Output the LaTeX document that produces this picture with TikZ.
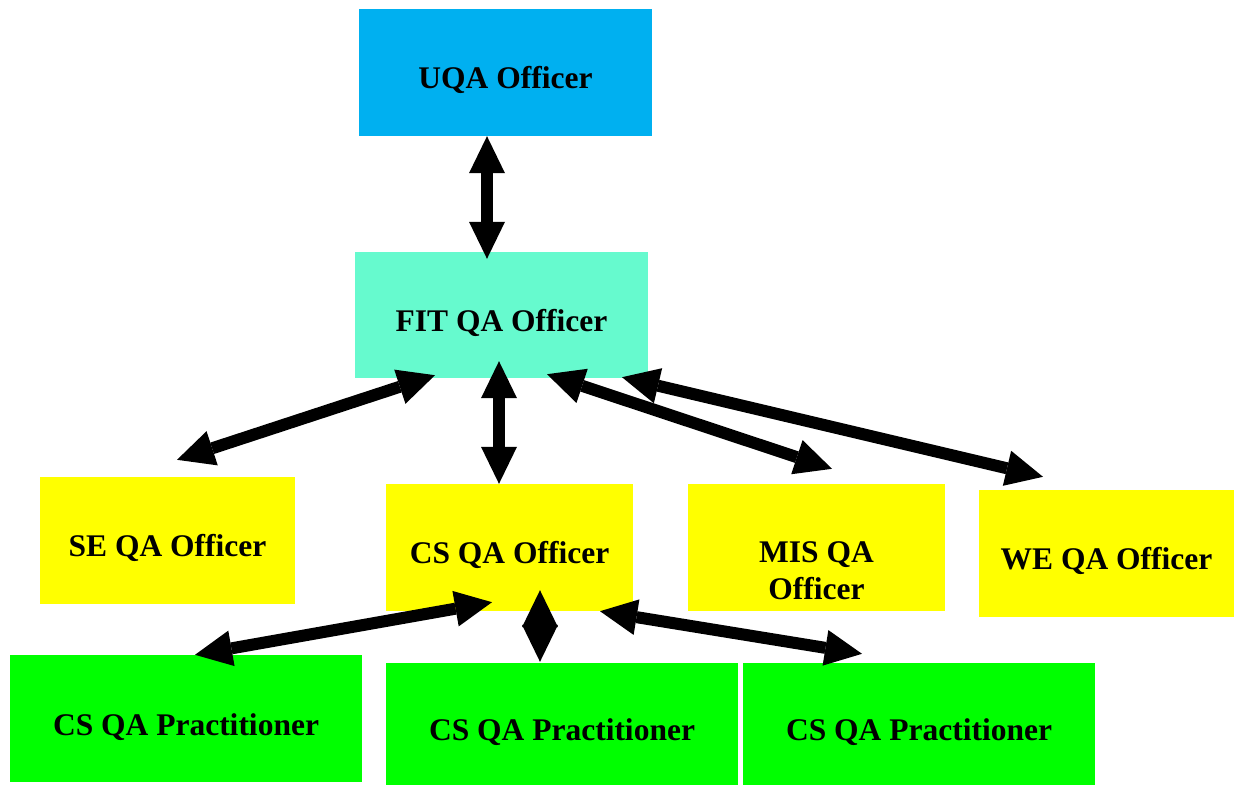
\documentclass[tikz,border=0pt]{standalone}
\usepackage{fontspec}
\setmainfont{Liberation Serif}
\usetikzlibrary{arrows.meta}
\definecolor{uqablue}{HTML}{00B0F0}
\definecolor{fitaqua}{HTML}{66FACE}
\definecolor{offyellow}{HTML}{FFFF00}
\definecolor{pracgreen}{HTML}{00FF00}
\newcommand\boxtext[2][16pt]{\raisebox{-#1}[0pt][0pt]{#2}}
\tikzset{
  box/.style={rectangle, inner sep=0pt, font=\bfseries\fontsize{31.5}{37}\selectfont},
  uqabox/.style={box, fill=uqablue, minimum width=293pt, minimum height=127pt},
  fitbox/.style={box, fill=fitaqua, minimum width=293pt, minimum height=126pt},
  offbox/.style={box, fill=offyellow, minimum height=127pt},
  pracbox/.style={box, fill=pracgreen, minimum width=352pt},
  link/.style={line width=12pt, {Triangle[length=37pt,width=36pt,line width=0pt]}-{Triangle[length=37pt,width=36pt,line width=0pt]}}
}
\begin{document}
\begin{tikzpicture}[x=1pt,y=-1pt]
\useasboundingbox (0,0) rectangle (1240,785);
\node[uqabox] (uqa) at (505.5,72.5) {\boxtext[15.5pt]{UQA Officer}};
\node[fitbox] (fit) at (501.5,315) {\boxtext{FIT QA Officer}};
\node[offbox, minimum width=255pt] (se) at (167.5,540.5) {\boxtext{SE QA Officer}};
\node[offbox, minimum width=247pt] (cs) at (509.5,547.5) {\boxtext{CS QA Officer}};
\node[offbox, minimum width=257pt] (mis) at (816.5,547.5) {\boxtext[14.5pt]{\begin{tabular}[t]{@{}c@{}}MIS QA\\Officer\end{tabular}}};
\node[offbox, minimum width=255pt] (we) at (1106.5,553.5) {\boxtext[15.5pt]{WE QA Officer}};
\node[pracbox, minimum height=127pt] (p1) at (186,718.5) {\boxtext[16.5pt]{CS QA Practitioner}};
\node[pracbox, minimum height=122pt] (p2) at (562,724) {\boxtext[16.7pt]{CS QA Practitioner}};
\node[pracbox, minimum height=122pt] (p3) at (919,724) {\boxtext[16.7pt]{CS QA Practitioner}};

\draw[link] ([shift={(-18.5,0)}]uqa.south) -- ([shift={(-14.5,7)}]fit.north);
\draw[link] ([shift={(-66.5,-3)}]fit.south) -- ([shift={(9.5,-17)}]se.north);
\draw[link] ([shift={(-2.5,-17)}]fit.south) -- ([shift={(-10.5,0)}]cs.north);
\draw[link] ([shift={(45.5,-4)}]fit.south) -- ([shift={(15.5,-15)}]mis.north);
\draw[link] ([shift={(120.5,-1)}]fit.south) -- ([shift={(-63.5,-13)}]we.north);
\draw[link] ([shift={(-17.5,-9)}]cs.south) -- ([shift={(9,0)}]p1.north);
\draw[link] ([shift={(30.5,-21)}]cs.south) -- ([shift={(-22,-1)}]p2.north);
\draw[link] ([shift={(90.5,0)}]cs.south) -- ([shift={(-57,-9)}]p3.north);
\end{tikzpicture}
\end{document}
